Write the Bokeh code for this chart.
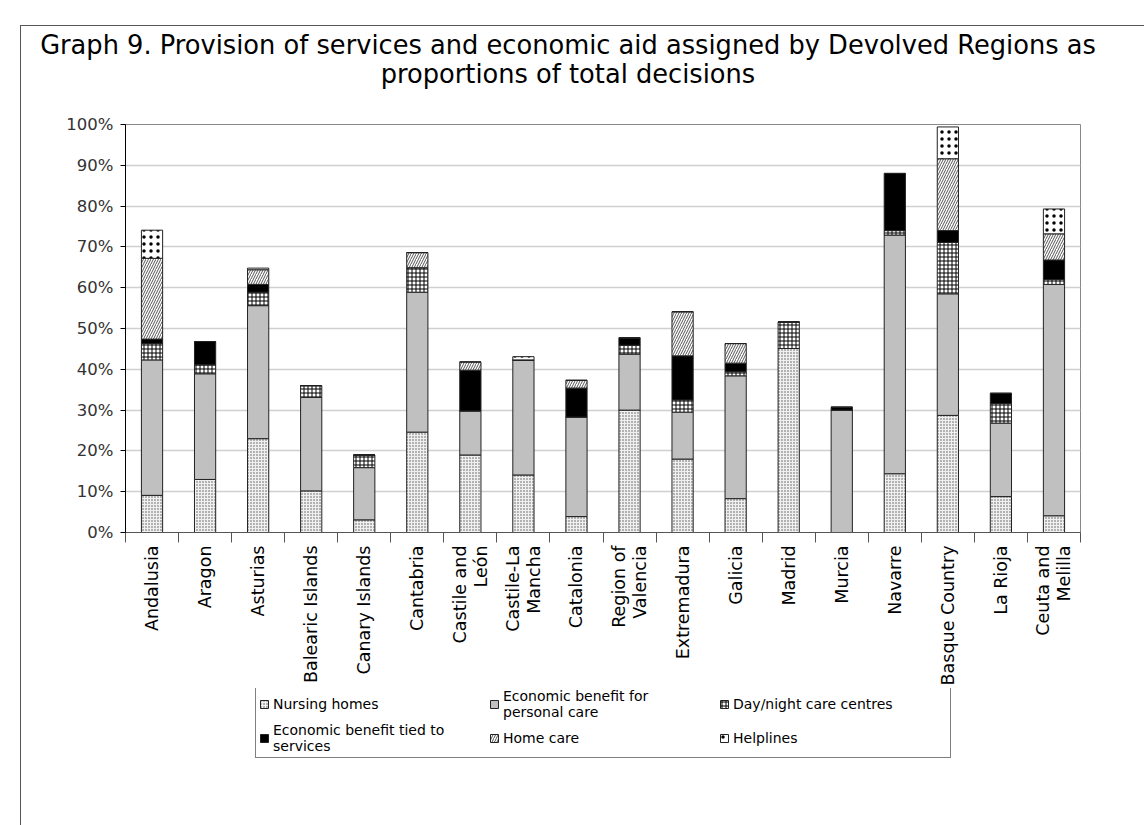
import math
from bokeh.plotting import figure
from bokeh.layouts import column
from bokeh.models import (ColumnDataSource, FixedTicker, NumeralTickFormatter, Legend,
                          LegendItem, Range1d, Div)
from bokeh.embed import file_html
from bokeh.resources import INLINE

regions = ["Andalusia", "Aragon", "Asturias", "Balearic Islands", "Canary Islands",
           "Cantabria", "Castile and\nLeón", "Castile-La\nMancha", "Catalonia",
           "Region of\nValencia", "Extremadura", "Galicia", "Madrid", "Murcia",
           "Navarre", "Basque Country", "La Rioja", "Ceuta and\nMelilla"]

series_names = ["Nursing homes", "Economic benefit for\npersonal care",
                "Day/night care centres", "Economic benefit tied to\nservices",
                "Home care", "Helplines"]

title_lines = ["Graph 9. Provision of services and economic aid assigned by Devolved Regions as",
               "proportions of total decisions"]

nursing_homes = [9.1, 13.0, 23.0, 10.2, 3.1, 24.6, 19.0, 14.1, 3.9, 30.0, 18.0, 8.3, 45.1, 0.0, 14.4, 28.7, 8.8, 4.1]
econ_personal = [33.2, 25.9, 32.6, 22.9, 12.8, 34.3, 10.8, 28.2, 24.4, 13.7, 11.5, 30.1, 0.0, 30.0, 58.5, 29.8, 18.0, 56.7]
day_night     = [4.0, 2.2, 3.3, 2.9, 3.1, 6.0, 0.0, 0.0, 0.0, 2.2, 3.0, 1.0, 6.5, 0.0, 1.1, 12.6, 4.8, 1.2]
econ_tied     = [1.1, 5.7, 1.9, 0.0, 0.0, 0.0, 10.0, 0.0, 7.1, 1.8, 10.8, 2.1, 0.0, 0.7, 14.0, 2.9, 2.5, 4.8]
home_care     = [19.8, 0.0, 3.6, 0.0, 0.0, 3.7, 2.0, 0.0, 1.9, 0.0, 10.8, 4.8, 0.0, 0.0, 0.0, 17.6, 0.0, 6.4]
helplines     = [6.9, 0.0, 0.4, 0.0, 0.0, 0.0, 0.0, 0.8, 0.0, 0.0, 0.0, 0.0, 0.0, 0.0, 0.0, 7.8, 0.0, 6.1]

y_ticks = [0, 10, 20, 30, 40, 50, 60, 70, 80, 90, 100]

keys = ["nh", "ep", "dn", "et", "hc", "hl"]
positions = list(range(1, len(regions) + 1))
data = {"x": positions}
for k, vals in zip(keys, [nursing_homes, econ_personal, day_night, econ_tied, home_care, helplines]):
    data[k] = [v / 100.0 for v in vals]
source = ColumnDataSource(data)

style = dict(
    fill_color=["#f0f0f0", "#C0C0C0", "white", "black", "white", "white"],
    hatch_pattern=["dot", " ", "cross", " ", "right_diagonal_line", "dot"],
    hatch_color=["#555555", "#C0C0C0", "black", "black", "#555555", "black"],
    hatch_scale=[3, 3, 4, 3, 5, 7],
    hatch_weight=[1, 1, 1, 1, 1, 5],
    line_color="#222222", line_width=1,
)

# title block (plain HTML text above the chart)
title = Div(text='<div style="width:1094px; padding:4px 0 0 0; text-align:center; white-space:nowrap;">'
                 + "<br>".join(title_lines) + "</div>",
            width=1123, height=87, margin=(1, 0, 0, 0),
            styles={"font-family": "DejaVu Sans", "font-size": "25.7px", "color": "black",
                    "line-height": "29px"})

p = figure(width=1123, height=574, output_backend="svg", toolbar_location=None,
           x_range=Range1d(0.5, len(regions) + 0.5), y_range=Range1d(0, 1),
           min_border_left=104, min_border_right=64, min_border_top=10, min_border_bottom=154,
           background_fill_color="white", border_fill_color="white")

renderers = p.vbar_stack(keys, x="x", width=0.4, source=source, **style)

# axes
p.xgrid.grid_line_color = None
p.ygrid.grid_line_color = "#D0D0D0"
p.ygrid.grid_line_width = 1.5
p.outline_line_color = "#888888"

p.yaxis.ticker = FixedTicker(ticks=[t / 100.0 for t in y_ticks])
p.yaxis.formatter = NumeralTickFormatter(format="0%")
p.yaxis.major_label_text_font = "DejaVu Sans"
p.yaxis.major_label_text_font_size = "16.5px"
p.yaxis.major_label_text_color = "#333333"
p.yaxis.major_label_standoff = 7
p.yaxis.major_tick_in = 0
p.yaxis.major_tick_out = 5
p.yaxis.minor_tick_line_color = None
p.yaxis.axis_line_color = "black"
p.yaxis.major_tick_line_color = "black"

p.xaxis.ticker = FixedTicker(ticks=positions,
                             minor_ticks=[i + 0.5 for i in range(0, len(regions) + 1)])
p.xaxis.major_label_overrides = {pos: name for pos, name in zip(positions, regions)}
p.xaxis.major_label_orientation = math.pi / 2
p.xaxis.major_label_text_font = "DejaVu Sans"
p.xaxis.major_label_text_font_size = "17.5px"
p.xaxis.major_label_text_color = "black"
p.xaxis.major_label_text_line_height = 1.05
p.xaxis.major_tick_in = 0
p.xaxis.major_tick_out = 10
p.xaxis.major_tick_line_color = None
p.xaxis.minor_tick_in = 0
p.xaxis.minor_tick_out = 10
p.xaxis.minor_tick_line_color = "#555555"
p.xaxis.axis_line_color = "#555555"
p.xaxis.major_label_standoff = 3

# legend in its own strip below the chart (its stack renderers are hidden; only swatches show)
lf = figure(width=1123, height=137, output_backend="svg", toolbar_location=None,
            x_range=Range1d(0, 1), y_range=Range1d(0, 1),
            x_axis_location=None, y_axis_location=None, min_border=0,
            outline_line_color=None, background_fill_color="white", border_fill_color="white")
lf.grid.visible = False
leg_renderers = lf.vbar_stack(keys, x="x", width=0.4, source=source, **style)
for r in leg_renderers:
    r.visible = False

legend = Legend(items=[LegendItem(label=n, renderers=[r]) for n, r in zip(series_names, leg_renderers)],
                orientation="horizontal", ncols=3, location=(130, 67),
                label_text_font="DejaVu Sans", label_text_font_size="14px",
                label_text_color="black",
                label_text_line_height=0.9, label_width=214,
                glyph_width=10, glyph_height=10, label_standoff=4,
                spacing=2, padding=3, margin=0,
                inactive_fill_alpha=0,
                border_line_color="black", border_line_width=1,
                background_fill_color="white", background_fill_alpha=1)
lf.add_layout(legend, "center")

layout = column(title, p, lf, spacing=0)
layout.styles = {"margin-left": "20px", "margin-top": "25px",
                 "border-left": "1px solid #555555", "border-top": "1px solid #555555"}

open("out.html", "w").write(file_html(layout, INLINE))
